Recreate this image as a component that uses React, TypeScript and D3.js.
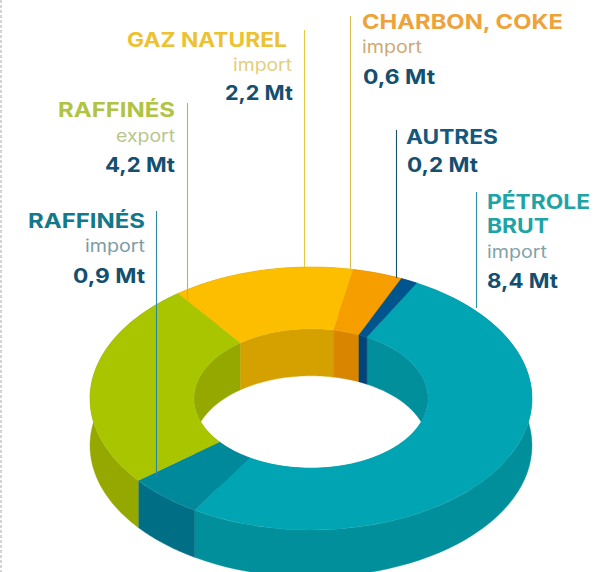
import React from "react";
import * as d3 from "d3";

// ---- data
const categories = ["PÉTROLE BRUT", "AUTRES", "CHARBON, COKE", "GAZ NATUREL", "RAFFINÉS export", "RAFFINÉS import"];
const values = [8.4, 0.2, 0.6, 2.2, 4.2, 0.9];
const order = [0, 1, 2, 3, 4, 5];
const valueLabels = ["8,4 Mt", "0,2 Mt", "0,6 Mt", "2,2 Mt", "4,2 Mt", "0,9 Mt"];
const flowLabels = ["import", "", "import", "import", "export", "import"];
const titleLines = [["PÉTROLE", "BRUT"], ["AUTRES"], ["CHARBON, COKE"], ["GAZ NATUREL"], ["RAFFINÉS"], ["RAFFINÉS"]];
// real pie order is Pétrole → Raffinés import → Raffinés export → Gaz → Charbon → Autres, clockwise from 28.5°
const pieOrder = [0, 5, 4, 3, 2, 1];

// ---- styles
const topColors = ["#00a4b2", "#00558f", "#f69d00", "#fdbe00", "#a9c500", "#00899b"];
const sideColors = ["#008f9b", "#00457a", "#d98500", "#d4a100", "#94a800", "#006f85"];
const titleColors = ["#1ea4a6", "#14597c", "#eea23a", "#edc232", "#b0c444", "#13798a"];
const flowColors = ["#7fa3a8", "#000", "#cfa974", "#e2ce7c", "#b8c68c", "#7b9ca6"];
const lineColors = ["#2f92a6", "#14506a", "#dcbc50", "#e3c93c", "#adc22c", "#2f86a6"];
const valueColor = "#144f70";

// ---- geometry
const W = 610, H = 572;
const cx = 311, cy = 398.5, rx = 221, ry = 131.5, innerRatio = 0.53, depth = 47;
const startDeg = 28.5;

type Lay = { titles: [number, number, number][]; flow?: [number, number, number]; val: [number, number, number]; line: [number, number, number] };
const layout: Lay[] = [
  { titles: [[487, 590, 209], [487, 549, 233]], flow: [487, 547, 258], val: [487, 558, 288], line: [476, 192, 308] },
  { titles: [[406, 498, 144]], val: [407, 478, 172], line: [396, 130, 278] },
  { titles: [[362, 563, 29]], flow: [362, 422, 53], val: [363, 435, 84], line: [350, 16, 270] },
  { titles: [[127, 287, 47]], flow: [233, 292, 71], val: [225, 293, 100], line: [304, 30, 267] },
  { titles: [[58, 175, 117]], flow: [116, 175, 142], val: [105, 175, 172], line: [187, 103, 300] },
  { titles: [[28, 145, 228]], flow: [85, 145, 252], val: [73, 145, 283], line: [156, 211, 477] },
];

const FONT = "Inter, 'Open Sans', sans-serif";

export default function App() {
  const pie = d3
    .pie<number>()
    .sort(null)
    .value((i) => values[i])
    .startAngle((startDeg * Math.PI) / 180)
    .endAngle((startDeg * Math.PI) / 180 + 2 * Math.PI);
  const slices = pie(pieOrder);
  const yScale = ry / rx;
  const arc = d3.arc<d3.PieArcDatum<number>>().innerRadius(rx * innerRatio).outerRadius(rx);

  // wall band between an elliptical arc and the same arc shifted down by the depth
  const band = (r: number, a0: number, a1: number) => {
    const angles = d3.range(0, 61).map((k) => a0 + ((a1 - a0) * k) / 60);
    const pts = angles.map((a) => [r * Math.sin(a), -r * Math.cos(a) * yScale] as [number, number]);
    const lower = pts.map(([x, y]) => [x, y + depth] as [number, number]).reverse();
    return d3.line()([...pts, ...lower]) + "Z";
  };

  return (
    <svg width={W} height={H} viewBox={`0 0 ${W} ${H}`} style={{ position: "absolute", left: 0, top: 0, background: "#fff" }}>
      <line x1={1} x2={1} y1={0} y2={572} stroke="#d4d4d4" strokeWidth={2} strokeDasharray="3 2" />
      <g transform={`translate(${cx},${cy})`}>
        {slices.map((s) => (
          <path key={"o" + s.data} d={band(rx, s.startAngle, s.endAngle)} fill={sideColors[s.data]} stroke={sideColors[s.data]} strokeWidth={0.4} />
        ))}
        {slices.map((s) => (
          <path key={"i" + s.data} d={band(rx * innerRatio, s.startAngle, s.endAngle)} fill={sideColors[s.data]} stroke={sideColors[s.data]} strokeWidth={0.4} />
        ))}
        <g transform={`scale(1,${yScale})`}>
          {slices.map((s) => (
            <path key={"t" + s.data} d={arc(s) as string} fill={topColors[s.data]} stroke={topColors[s.data]} strokeWidth={0.4} />
          ))}
        </g>
      </g>
      {order.map((i) => {
        const l = layout[i];
        return (
          <g key={categories[i]} fontFamily={FONT}>
            <line x1={l.line[0] + 0.5} x2={l.line[0] + 0.5} y1={l.line[1]} y2={l.line[2]} stroke={lineColors[i]} strokeWidth={1.1} />
            {titleLines[i].map((t, k) => (
              <text key={t} x={l.titles[k][0]} y={l.titles[k][2]} fontSize={20} fontWeight={700} fill={titleColors[i]} textLength={l.titles[k][1] - l.titles[k][0]} lengthAdjust="spacingAndGlyphs">
                {t}
              </text>
            ))}
            {l.flow && (
              <text x={l.flow[0]} y={l.flow[2]} fontSize={17} fontWeight={400} fill={flowColors[i]} textLength={l.flow[1] - l.flow[0]} lengthAdjust="spacingAndGlyphs">
                {flowLabels[i]}
              </text>
            )}
            <text x={l.val[0]} y={l.val[2]} fontSize={20} fontWeight={700} fill={valueColor} textLength={l.val[1] - l.val[0]} lengthAdjust="spacingAndGlyphs">
              {valueLabels[i]}
            </text>
          </g>
        );
      })}
    </svg>
  );
}
